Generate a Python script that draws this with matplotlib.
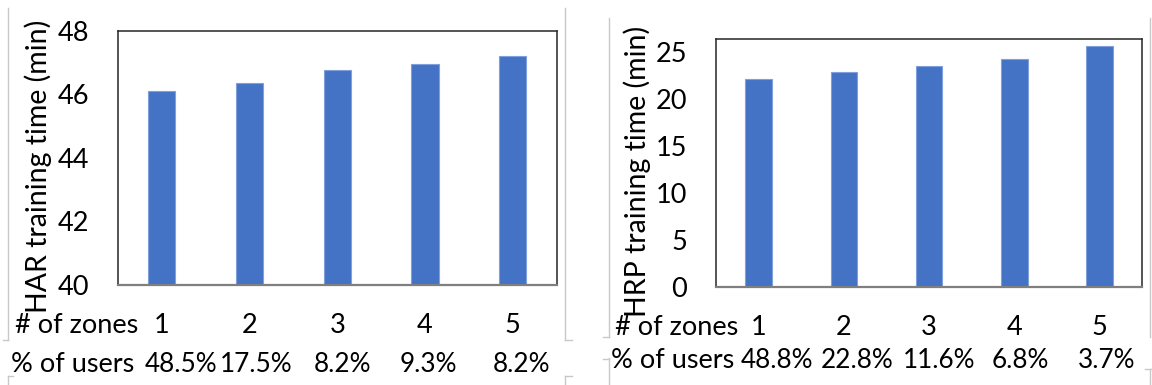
import matplotlib.pyplot as plt
from matplotlib.lines import Line2D
from matplotlib.transforms import blended_transform_factory

plt.rcParams['font.family'] = ['Lato', 'DejaVu Sans']

zones = [1, 2, 3, 4, 5]

har_time = [46.1, 46.35, 46.75, 46.95, 47.2]
har_users = ['48.5%', '17.5%', '8.2%', '9.3%', '8.2%']

hrp_time = [22.1, 22.8, 23.5, 24.2, 25.6]
hrp_users = ['48.8%', '22.8%', '11.6%', '6.8%', '3.7%']

BAR = '#4472C4'
FS = 19.5
FS_PCT = 18.8
FS_YLAB = 20.5

# horizontal nudges (in category units) for the "% of users" row
har_nudge = [0.22, 0.07, 0.06, 0.04, 0.10]
hrp_nudge = [0.21, 0.15, 0.12, 0.07, 0.08]

fig = plt.figure(figsize=(11.52, 3.85), dpi=100)
W, H = 1152, 385


def px(x0, y0, x1, y1):
    # pixel box (top-left origin) -> figure rect
    return [x0 / W, 1 - y1 / H, (x1 - x0) / W, (y1 - y0) / H]


def panel(rect, values, ylim, yticks, ylabel, ylab_xy, users, nudge,
          row_left, zone_base, user_base):
    ax = fig.add_axes(rect)
    x = range(len(zones))
    ax.bar(x, values, width=0.31, color=BAR, edgecolor='#7fa0dc',
           linewidth=0.8, zorder=2)
    ax.set_xlim(-0.5, len(zones) - 0.5)
    ax.set_ylim(*ylim)
    ax.set_yticks(yticks)
    ax.set_xticks([])
    ax.tick_params(axis='y', length=0, pad=21, labelsize=FS)
    for s in ['top', 'left', 'right']:
        ax.spines[s].set_color('#262626')
        ax.spines[s].set_linewidth(1.1)
    ax.spines['bottom'].set_color('#7f7f7f')
    ax.spines['bottom'].set_linewidth(1.6)

    fig.text(ylab_xy[0] / W, 1 - ylab_xy[1] / H, ylabel, rotation=90,
             ha='center', va='center', fontsize=FS_YLAB)

    tr = blended_transform_factory(ax.transData, fig.transFigure)
    fig.text(row_left / W, 1 - zone_base / H, '# of zones',
             ha='left', va='baseline', fontsize=FS)
    for i, z in enumerate(zones):
        ax.text(i, 1 - zone_base / H, str(z), transform=tr,
                ha='center', va='baseline', fontsize=FS)
    fig.text((row_left - 4) / W, 1 - user_base / H, '% of users',
             ha='left', va='baseline', fontsize=FS)
    for i, u in enumerate(users):
        ax.text(i + nudge[i], 1 - user_base / H, u, transform=tr,
                ha='center', va='baseline', fontsize=FS_PCT)
    return ax


panel(px(118, 30.7, 556.7, 285), har_time, (40, 48), range(40, 49, 2),
      'HAR training time (min)', (38, 166), har_users, har_nudge,
      15, 333, 371.5)
panel(px(716, 39.3, 1142.3, 287.3), hrp_time, (0, 26.3), range(0, 26, 5),
      'HRP training time (min)', (637, 171), hrp_users, hrp_nudge,
      615, 335, 368)

# light table cell borders around the two panels
border = '#c8c8c8'
segments = [
    ((8, 8), (8, 340)), ((3, 8), (340, 340)), ((8, 8), (376, 385)),
    ((8, 13), (376, 376)),
    ((565, 565), (8, 340)), ((565, 572), (340, 340)), ((565, 565), (376, 385)),
    ((565, 572), (376, 376)),
    ((609, 609), (18, 337)), ((603, 609), (337, 337)), ((609, 609), (358, 385)),
    ((603, 609), (359, 359)),
    ((1150, 1150), (18, 337)), ((1150, 1150), (369, 385)),
    ((1145, 1152), (369, 369)),
]
for (xa, xb), (ya, yb) in segments:
    fig.add_artist(Line2D([xa / W, xb / W], [1 - ya / H, 1 - yb / H],
                          transform=fig.transFigure, color=border, lw=1))

fig.savefig('out.png', dpi=100)
